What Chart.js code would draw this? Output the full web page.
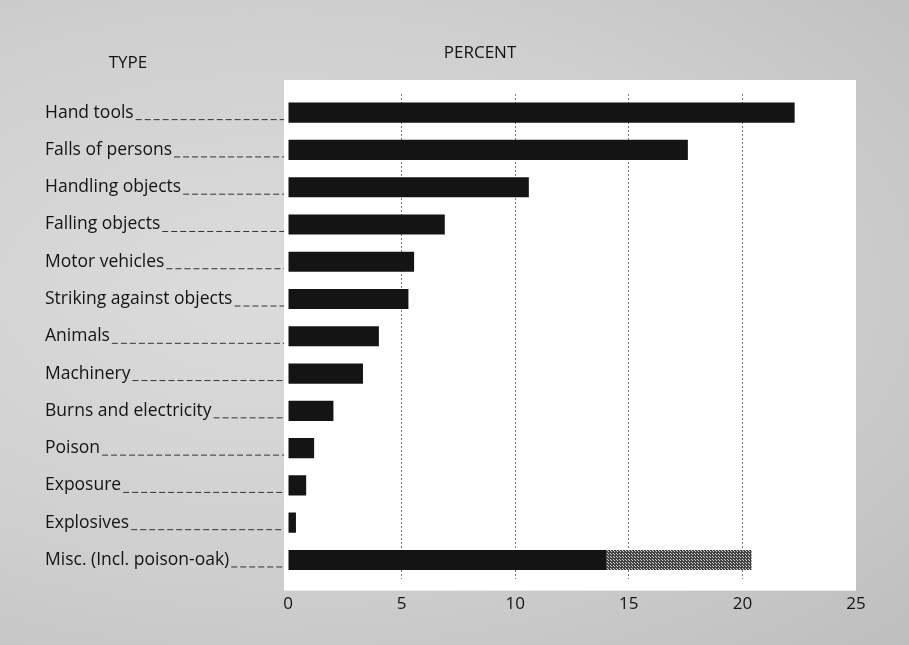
<!DOCTYPE html>
<html>
<head>
<meta charset="utf-8">
<script src="https://cdn.jsdelivr.net/npm/chart.js@4.4.1/dist/chart.umd.min.js"></script>
<style>
  html, body { margin: 0; padding: 0; }
  body {
    width: 909px; height: 645px; overflow: hidden;
    background: radial-gradient(ellipse at 30% 45%, #dcdcdc 0%, #cfcfcf 55%, #bebebe 100%);
  }
  #wrap { position: relative; width: 909px; height: 645px; }
</style>
</head>
<body>
<div id="wrap"><canvas id="chart" width="909" height="645"></canvas></div>
<script>
// accident types, top to bottom
const categories = [
  'Hand tools', 'Falls of persons', 'Handling objects', 'Falling objects',
  'Motor vehicles', 'Striking against objects', 'Animals', 'Machinery',
  'Burns and electricity', 'Poison', 'Exposure', 'Explosives',
  'Misc. (Incl. poison-oak)'
];
// percent of accidents (solid black part)
const percentValues = [22.3, 17.6, 10.6, 6.9, 5.55, 5.3, 4.0, 3.3, 2.0, 1.15, 0.8, 0.35, 14.0];
// poison-oak share of misc, drawn stippled
const poisonOakValues = [0, 0, 0, 0, 0, 0, 0, 0, 0, 0, 0, 0, 6.4];
const xTicks = [0, 5, 10, 15, 20, 25];

const FONT = '"Open Sans", Lato, sans-serif';
const INK = '#141414';

// fine dotted screen used for the poison-oak segment
function makeStipple() {
  const c = document.createElement('canvas');
  c.width = 3; c.height = 3;
  const g = c.getContext('2d');
  g.fillStyle = '#444';
  g.fillRect(0, 0, 3, 3);
  g.fillStyle = '#d0d0d0';
  g.fillRect(1, 1, 1, 1);
  g.fillRect(2, 2, 1, 1);
  return g.createPattern(c, 'repeat');
}

const paperPlugin = {
  id: 'paper',
  beforeDraw(chart) {
    const { ctx, chartArea: a } = chart;
    ctx.save();
    ctx.fillStyle = '#ffffff';
    ctx.fillRect(a.left - 4, a.top - 14, a.right - a.left + 4, a.bottom - a.top + 26);
    ctx.restore();
  },
  afterDraw(chart) {
    const { ctx, chartArea: a } = chart;
    const yScale = chart.scales.y;
    ctx.save();
    ctx.fillStyle = INK;
    ctx.strokeStyle = '#333';
    ctx.font = '17.5px ' + FONT;
    ctx.textBaseline = 'middle';
    categories.forEach((name, i) => {
      const y = yScale.getPixelForValue(i);
      ctx.fillText(name, 45, y);
      const end = 45 + ctx.measureText(name).width;
      ctx.lineWidth = 1;
      ctx.setLineDash([6, 3]);
      ctx.beginPath();
      ctx.moveTo(end + 2, y + 7);
      ctx.lineTo(a.left - 4, y + 7);
      ctx.stroke();
    });
    ctx.setLineDash([]);
    ctx.font = '17px ' + FONT;
    ctx.textAlign = 'center';
    ctx.fillText('TYPE', 128, 63);
    ctx.fillText('PERCENT', 480, 53);
    ctx.restore();
  }
};

new Chart(document.getElementById('chart'), {
  type: 'bar',
  data: {
    labels: categories,
    datasets: [
      { label: 'Percent', data: percentValues, backgroundColor: INK },
      { label: 'Poison-oak', data: poisonOakValues, backgroundColor: makeStipple() }
    ]
  },
  options: {
    indexAxis: 'y',
    responsive: false,
    animation: false,
    events: [],
    layout: { padding: { left: 288, right: 53, top: 94, bottom: 16 } },
    datasets: { bar: { barPercentage: 0.54, categoryPercentage: 1 } },
    plugins: { legend: { display: false }, tooltip: { enabled: false } },
    scales: {
      x: {
        stacked: true,
        min: 0, max: 25,
        afterBuildTicks: (s) => { s.ticks = xTicks.map(v => ({ value: v })); },
        grid: {
          drawTicks: false,
          lineWidth: 1,
          color: (c) => (c.tick && (c.tick.value === 0 || c.tick.value === 25)) ? 'rgba(0,0,0,0)' : '#777'
        },
        border: { display: false, dash: [2, 2] },
        ticks: { color: INK, font: { family: FONT, size: 17 }, padding: 15 }
      },
      y: {
        stacked: true,
        display: false
      }
    }
  },
  plugins: [paperPlugin]
});
</script>
</body>
</html>
